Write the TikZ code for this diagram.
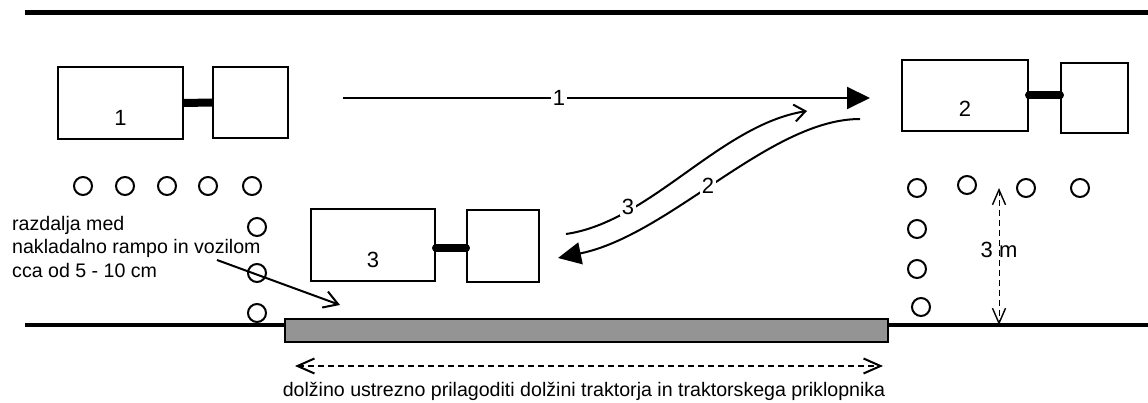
\documentclass[tikz,border=0pt]{standalone}
\usepackage{fontspec}
\setmainfont{Liberation Sans}
\usetikzlibrary{arrows.meta}

\begin{document}
\begin{tikzpicture}[x=1pt, y=-1pt,
    font=\fontsize{19.6}{23.5}\selectfont,
    box/.style n args={2}{draw, line width=2pt, inner sep=0pt, minimum width=#1, minimum height=#2},
    num/.style={font=\fontsize{22}{26}\selectfont},
    hitch/.style={line width=8pt},
    post/.style={line width=2pt},
    move/.style={line width=2pt},
    tag/.style={num, fill=white, inner sep=1.5pt},
    dimline/.style={line width=0.9pt, dash pattern=on 6pt off 4pt}]
    %%%%% START %%%%%
    \useasboundingbox (0,0) rectangle (1148,403);

    % edges of the yard
    \draw[line width=5pt] (25,13) -- (1148,13);
    \draw[line width=4pt] (25,325) -- (1148,325);
    \draw[line width=2.5pt, fill=black!42] (285,319) rectangle (888,342);

    % vehicles
    \node[box={125pt}{72pt}] (cab1) at (120.5,103) {};
    \node[box={75pt}{71pt}] (trl1) at (250.5,102.5) {};
    \draw[hitch] (cab1.east) -- (trl1.west);
    \node[num] at ([yshift=-15pt]cab1.center) {1};

    \node[box={126pt}{71pt}] (cab2) at (965,95.5) {};
    \node[box={67pt}{70pt}] (trl2) at (1094.5,98) {};
    \draw[hitch, line cap=round] (cab2.east) -- (trl2.west |- cab2.east);
    \node[num] at ([yshift=-13.5pt]cab2.center) {2};

    \node[box={124pt}{72pt}] (cab3) at (373,245.5) {};
    \node[box={72pt}{72pt}] (trl3) at (503,246) {};
    \draw[hitch, line cap=round] ([yshift=-2.5pt]cab3.east) -- ([yshift=-2.5pt]cab3.east -| trl3.west);
    \node[num] at ([yshift=-14.5pt]cab3.center) {3};

    % posts
    \foreach \x in {83,125,167,208,252}
        \draw[post] (\x,186) circle[radius=9pt];
    \foreach \y in {227,273,313}
        \draw[post] (257,\y) circle[radius=9pt];
    \foreach \x/\y in {917/188,967/185,1026/188,1080/188}
        \draw[post] (\x,\y) circle[radius=9pt];
    \foreach \y in {229,269}
        \draw[post] (917,\y) circle[radius=9pt];
    \draw[post] (921,307) circle[radius=9pt];

    % moves
    \coordinate (m1s) at (343,98);
    \coordinate (m1e) at (870,98);
    \coordinate (m2s) at (860,119);
    \coordinate (m2e) at (558,258);
    \coordinate (m3s) at (566,234);
    \coordinate (m3e) at (807,111);
    \draw[move, -{Triangle[length=23pt,width=22pt]}] (m1s) -- (m1e);
    \draw[move, -{Triangle[length=23pt,width=22pt]}] (m2s) .. controls (770,119) and (670,235) .. (m2e);
    \draw[move, -{Straight Barb[length=11pt,width=17pt,line width=2pt]}] (m3s) .. controls (650,222) and (720,125) .. (m3e);
    \node[tag] at (559,98) {1};
    \node[tag] at (708,186) {2};
    \node[tag] at (628,207) {3};

    % notes
    \node[align=left, anchor=north west, inner sep=0pt] (gap) at (12,216) {razdalja med\\nakladalno rampo in vozilom\\cca od 5 - 10 cm};
    \coordinate (gapend) at (340,305);
    \draw[line width=2pt, -{Straight Barb[length=14pt,width=17pt]}] (217,260) -- (gapend);

    \draw[dimline, {Straight Barb[length=15pt,width=13pt,line width=1.4pt]}-{Straight Barb[length=15pt,width=13pt,line width=1.4pt]}] (999,188) -- (999,325);
    \node[num] at (999,250) {3 m};

    \draw[dimline, line width=1.2pt, {Straight Barb[length=17pt,width=15pt,line width=2pt]}-{Straight Barb[length=17pt,width=15pt,line width=2pt]}] (295,366) -- (883,366);
    \node[anchor=base] (len) at (584,396) {dolžino ustrezno prilagoditi dolžini traktorja in traktorskega priklopnika};
    %%%%% END %%%%%
\end{tikzpicture}
\end{document}
